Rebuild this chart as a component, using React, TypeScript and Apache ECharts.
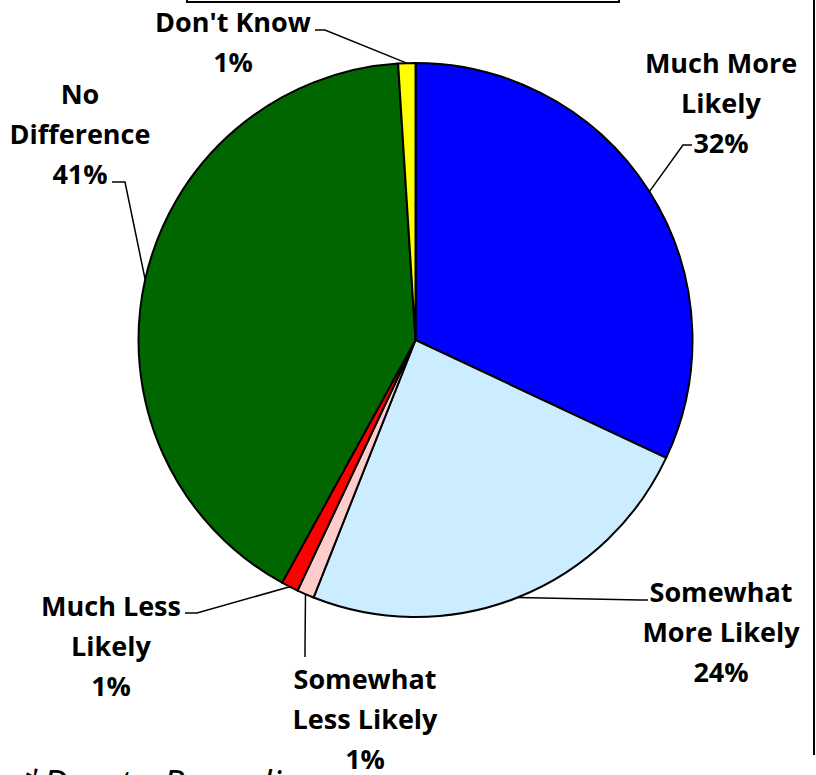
import React, { useEffect, useRef } from "react";
import * as echarts from "echarts";

const categories = [
  "Much More Likely",
  "Somewhat More Likely",
  "Somewhat Less Likely",
  "Much Less Likely",
  "No Difference",
  "Don't Know",
];
const labelTexts = [
  "Much More\nLikely",
  "Somewhat\nMore Likely",
  "Somewhat\nLess Likely",
  "Much Less\nLikely",
  "No\nDifference",
  "Don't Know",
];
const values = [32, 24, 1, 1, 41, 1];
const colors = ["#0000FF", "#CCECFF", "#FFCCCC", "#FF0000", "#006600", "#FFFF00"];
const footnote = "*Due to Rounding";

// label placement (style)
const labelPos = [
  [721, 102],
  [721, 631],
  [365, 718],
  [111, 645],
  [80, 133],
  [233, 41],
];
const lineTail = [
  [[683, 145], [692, 145]],
  [[640, 600], [648, 600]],
  [[305, 650], [305, 657]],
  [[197, 613], [185, 613]],
  [[125, 182], [112, 182]],
  [[325, 30], [315, 30]],
];

export default function App() {
  const ref = useRef<HTMLDivElement>(null);
  useEffect(() => {
    if (!ref.current) return;
    const chart = echarts.init(ref.current, null, { renderer: "svg" });
    chart.setOption({
      animation: false,
      backgroundColor: "#ffffff",
      graphic: [
        {
          type: "rect",
          shape: { x: 187, y: -20, width: 432, height: 22 },
          style: { fill: "none", stroke: "#000", lineWidth: 2 },
        },
        {
          type: "line",
          shape: { x1: 814, y1: 0, x2: 814, y2: 755 },
          style: { stroke: "#000", lineWidth: 2 },
        },
        {
          type: "text",
          x: 22,
          y: 783,
          style: {
            text: footnote,
            fontFamily: "Open Sans",
            fontStyle: "italic",
            fontSize: 38,
            fill: "#000",
            textVerticalAlign: "middle",
          },
        },
      ],
      series: [
        {
          type: "pie",
          center: [415.5, 340],
          radius: 277,
          startAngle: 90,
          clockwise: true,
          avoidLabelOverlap: false,
          itemStyle: { borderColor: "#000", borderWidth: 2 },
          label: {
            show: true,
            position: "outside",
            formatter: (p: any) => labelTexts[p.dataIndex] + "\n" + p.value + "%",
            fontFamily: "Open Sans",
            fontWeight: "bold",
            fontSize: 27,
            lineHeight: 40,
            color: "#000",
            align: "center",
          },
          labelLine: {
            show: true,
            lineStyle: { color: "#000", width: 1.5 },
          },
          labelLayout: (params: any) => {
            const i = params.dataIndex;
            const start = params.labelLinePoints ? params.labelLinePoints[0] : lineTail[i][0];
            return {
              x: labelPos[i][0],
              y: labelPos[i][1],
              align: "center",
              verticalAlign: "middle",
              labelLinePoints: [start, lineTail[i][0], lineTail[i][1]],
            };
          },
          emphasis: { disabled: true },
          data: categories.map((c, i) => ({
            name: c,
            value: values[i],
            itemStyle: { color: colors[i] },
          })),
        },
      ],
    });
    return () => chart.dispose();
  }, []);
  return (
    <div
      ref={ref}
      style={{ position: "fixed", left: 0, top: 0, width: 816, height: 775 }}
    />
  );
}
